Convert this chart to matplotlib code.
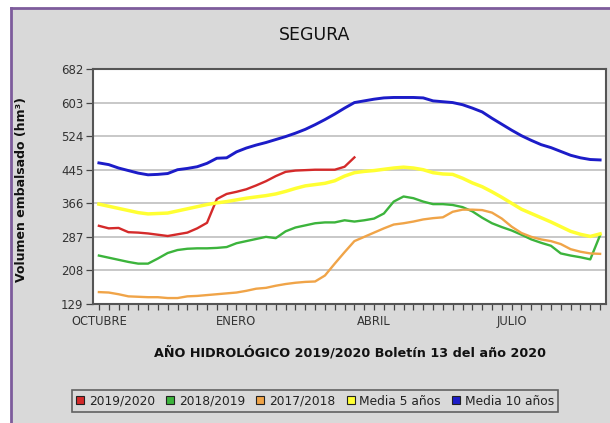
import matplotlib
matplotlib.use("Agg")
import matplotlib.pyplot as plt
from matplotlib.lines import Line2D
from matplotlib.patches import Rectangle

# ---- data (weekly values, hm3) ----
weeks = list(range(52))
month_labels = ["OCTUBRE", "ENERO", "ABRIL", "JULIO"]
month_label_weeks = [0, 14, 28, 42]
y_ticks = [129, 208, 287, 366, 445, 524, 603, 682]

s2019_2020 = [313, 307, 308, 298, 297, 295, 292, 289, 293, 297, 307, 320, 376, 388,
              393, 399, 408, 418, 430, 440, 443, 444, 445, 445, 445, 452, 474]
s2018_2019 = [243, 238, 233, 228, 224, 224, 236, 249, 256, 259, 260, 260, 261, 263,
              272, 277, 282, 287, 284, 300, 309, 314, 319, 321, 321, 326, 323, 326,
              330, 342, 370, 382, 378, 370, 364, 364, 362, 357, 347, 332, 319, 310,
              302, 292, 281, 273, 266, 248, 243, 239, 234, 291]
s2017_2018 = [157, 156, 152, 147, 146, 145, 145, 143, 143, 147, 148, 150, 152, 154,
              156, 160, 165, 167, 172, 176, 179, 181, 182, 196, 224, 251, 277, 287,
              297, 307, 316, 319, 323, 328, 331, 333, 346, 351, 351, 350, 344, 330,
              311, 296, 287, 281, 277, 270, 258, 252, 248, 247]
media5 = [364, 359, 354, 349, 344, 341, 342, 343, 348, 353, 358, 363, 367, 370,
          374, 378, 381, 384, 388, 394, 401, 407, 410, 413, 419, 430, 438, 441,
          443, 446, 449, 451, 449, 445, 438, 435, 434, 425, 414, 405, 393, 380,
          366, 352, 342, 332, 322, 311, 300, 293, 288, 294]
media10 = [461, 457, 449, 443, 437, 433, 434, 436, 445, 448, 452, 460, 472, 473,
           487, 496, 503, 509, 516, 523, 531, 540, 551, 563, 576, 590, 603, 607,
           611, 614, 615, 615, 615, 614, 607, 605, 603, 598, 590, 581, 566, 552,
           538, 525, 514, 504, 497, 488, 479, 473, 469, 468]

series_names = ["2019/2020", "2018/2019", "2017/2018", "Media 5 años", "Media 10 años"]
series_values = [s2019_2020, s2018_2019, s2017_2018, media5, media10]
series_colors = ["#d42a2a", "#3cb43c", "#f0a448", "#ffff33", "#1c1cc8"]
series_widths = [1.7, 1.7, 1.7, 2.5, 2.1]

W, H = 610, 423
BG = "#d9d9d9"
fig = plt.figure(figsize=(W / 100, H / 100), dpi=100, facecolor="white")

# gray panel with purple frame (left and top edges visible)
fig.add_artist(Rectangle((11 / W, 0), 1 - 11 / W, 1 - 8 / H, transform=fig.transFigure,
                         facecolor=BG, edgecolor="none", zorder=-10))
fig.add_artist(Line2D([11 / W, 11 / W], [0, 1 - 8 / H], transform=fig.transFigure,
                      color="#7d5c9c", lw=2))
fig.add_artist(Line2D([11 / W, 1], [1 - 8 / H, 1 - 8 / H], transform=fig.transFigure,
                      color="#7d5c9c", lw=2))

left, right, top, bottom = 93 / W, 606 / W, 1 - 69 / H, 1 - 304 / H
ax = fig.add_axes([left, bottom, right - left, top - bottom])
ax.set_facecolor("white")

for name, vals, col, lw in zip(series_names, series_values, series_colors, series_widths):
    ax.plot(weeks[:len(vals)], vals, color=col, lw=lw, solid_joinstyle="round",
            label=name, zorder=3)

ax.set_xlim(-0.6, 51.6)
ax.set_ylim(129, 682)
ax.set_yticks(y_ticks)
ax.set_yticklabels([str(v) for v in y_ticks], fontsize=8.5, color="#333333")
ax.set_xticks(weeks)
xl = [""] * len(weeks)
for w, lab in zip(month_label_weeks, month_labels):
    xl[w] = lab
ax.set_xticklabels(xl, fontsize=8.3, color="#333333")
ax.tick_params(axis="x", length=4, width=0.9, color="#444444", pad=4)
ax.tick_params(axis="y", length=5, width=0.9, color="#444444", pad=2)

for v in y_ticks[1:-1]:
    ax.axhline(v, color="#c8c8c8", lw=1.4, zorder=1)

for sp in ax.spines.values():
    sp.set_color("#555555")
    sp.set_linewidth(1.5)

fig.text(315 / W, 1 - 35 / H, "SEGURA", ha="center", va="center", fontsize=12.5,
         color="#111111")
fig.text(22 / W, 1 - 190 / H, "Volumen embalsado (hm³)", rotation=90, ha="center",
         va="center", fontsize=9, fontweight="bold", color="#111111")
fig.text(350 / W, 1 - 353 / H, "AÑO HIDROLÓGICO 2019/2020 Boletín 13 del año 2020",
         ha="center", va="center", fontsize=9.2, fontweight="bold", color="#111111")

handles = [Line2D([], [], marker="s", ls="none", markersize=6, markerfacecolor=c,
                  markeredgecolor="#222222", markeredgewidth=0.8) for c in series_colors]
leg = fig.legend(handles, series_names, loc="center", ncol=5,
                 bbox_to_anchor=(315 / W, 1 - 401 / H), fontsize=8.8,
                 frameon=True, fancybox=False, facecolor=BG, edgecolor="#444444",
                 handlelength=0.7, handletextpad=0.35, columnspacing=0.9,
                 borderpad=0.35, borderaxespad=0)
leg.get_frame().set_linewidth(1.2)
for t in leg.get_texts():
    t.set_color("#222222")

fig.savefig("out.png", dpi=100, facecolor=fig.get_facecolor())
